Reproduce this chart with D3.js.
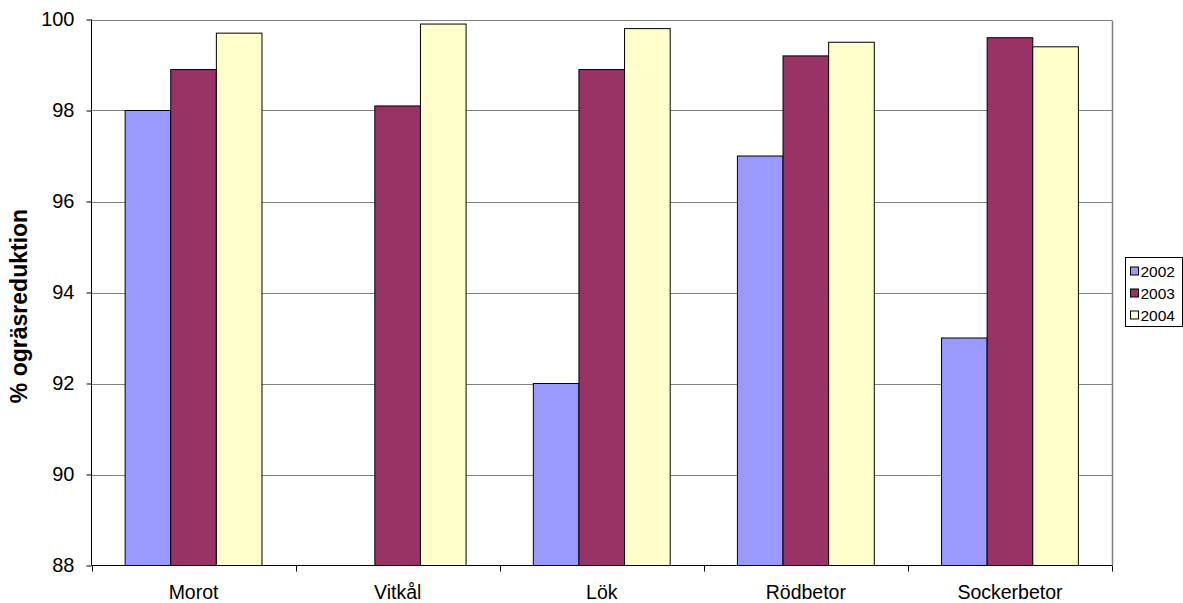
<!DOCTYPE html>
<html>
<head>
<meta charset="utf-8">
<script src="https://cdn.jsdelivr.net/npm/d3@7"></script>
<style>
  body { margin: 0; background: #fff; }
  svg { display: block; font-family: "Liberation Sans", Arial, sans-serif; }
</style>
</head>
<body>
<svg id="chart" width="1183" height="603"></svg>
<script>
// Crops and seasons
const categories = ["Morot", "Vitkål", "Lök", "Rödbetor", "Sockerbetor"];
const seriesNames = ["2002", "2003", "2004"];
// Weed reduction (%) per crop, one array per season
const values2002 = [98.0, null, 92.0, 97.0, 93.0];
const values2003 = [98.9, 98.1, 98.9, 99.2, 99.6];
const values2004 = [99.7, 99.9, 99.8, 99.5, 99.4];
const yTicks = [88, 90, 92, 94, 96, 98, 100];
const yTitle = "% ogräsreduktion";

const colors = ["#9999FF", "#993366", "#FFFFCC"];
const seriesValues = [values2002, values2003, values2004];
const FONT = "Liberation Sans, Arial, sans-serif";

const svg = d3.select("#chart");
const plot = { left: 91.5, right: 1112, top: 19.5, bottom: 565.5 };

const x0 = d3.scaleBand().domain(categories).range([plot.left, plot.right]).paddingInner(0).paddingOuter(0);
const x1 = d3.scaleBand().domain(seriesNames).range([0, x0.bandwidth()]).paddingInner(0).paddingOuter(0.737);
const y = d3.scaleLinear().domain([88, 100]).range([plot.bottom, plot.top]);

// gridlines
svg.append("g").selectAll("line").data(yTicks.filter(t => t > 88)).join("line")
  .attr("x1", plot.left).attr("x2", plot.right)
  .attr("y1", d => Math.round(y(d)) + 0.5).attr("y2", d => Math.round(y(d)) + 0.5)
  .attr("stroke", "#808080").attr("stroke-width", 1);

// right border
svg.append("line")
  .attr("x1", plot.right + 0.5).attr("x2", plot.right + 0.5)
  .attr("y1", Math.round(y(100)) + 0.5).attr("y2", plot.bottom)
  .attr("stroke", "#808080").attr("stroke-width", 1.5);

// bars
const rows = categories.map((c, i) => ({ cat: c, vals: seriesNames.map((s, j) => ({ s, j, v: seriesValues[j][i] })) }));
svg.append("g").selectAll("g").data(rows).join("g")
  .attr("transform", d => `translate(${x0(d.cat)},0)`)
  .selectAll("rect").data(d => d.vals.filter(v => v.v != null)).join("rect")
  .attr("x", d => x1(d.s))
  .attr("width", x1.bandwidth())
  .attr("y", d => y(d.v))
  .attr("height", d => y(88) - y(d.v))
  .attr("fill", d => colors[d.j])
  .attr("stroke", "#000").attr("stroke-width", 1);

// y axis
const yAxis = d3.axisLeft(y).tickValues(yTicks).tickSize(5).tickPadding(12).tickFormat(d3.format("d"));
const gy = svg.append("g").attr("transform", `translate(${plot.left},0)`).call(yAxis);
gy.select(".domain").attr("stroke", "#000").attr("d", `M0,${plot.top}V${plot.bottom}`);
gy.selectAll(".tick line").attr("stroke", "#000");
gy.selectAll(".tick text").attr("font-size", 20).attr("fill", "#000").attr("font-family", FONT);

// x axis
const xAxis = d3.axisBottom(x0).tickSize(0).tickPadding(0);
const gx = svg.append("g").attr("transform", `translate(0,${plot.bottom})`).call(xAxis);
gx.select(".domain").attr("stroke", "#000").attr("d", `M${plot.left},0H${plot.right}`);
gx.selectAll(".tick text").attr("font-size", 19.5).attr("fill", "#000").attr("font-family", FONT)
  .attr("dy", null).attr("y", 33);
// boundary ticks between categories
const bounds = categories.map(c => x0(c)).concat([plot.right]);
svg.append("g").selectAll("line").data(bounds).join("line")
  .attr("x1", d => Math.round(d) + 0.5).attr("x2", d => Math.round(d) + 0.5)
  .attr("y1", plot.bottom).attr("y2", plot.bottom + 6)
  .attr("stroke", "#000");

// y title
svg.append("text")
  .attr("transform", `translate(27,306) rotate(-90)`)
  .attr("text-anchor", "middle")
  .attr("font-size", 23).attr("font-weight", "bold")
  .text(yTitle);

// legend
const lg = svg.append("g").attr("transform", "translate(1125.5,257.5)");
lg.append("rect").attr("width", 57).attr("height", 69).attr("fill", "#fff").attr("stroke", "#000");
const items = lg.selectAll("g").data(seriesNames).join("g")
  .attr("transform", (d, i) => `translate(5,${13.5 + i * 22})`);
items.append("rect").attr("x", 0).attr("y", -4).attr("width", 8).attr("height", 8)
  .attr("fill", (d, i) => colors[i]).attr("stroke", "#000");
items.append("text").attr("x", 10).attr("y", 5.5).attr("font-size", 15.5).text(d => d);
</script>
</body>
</html>
